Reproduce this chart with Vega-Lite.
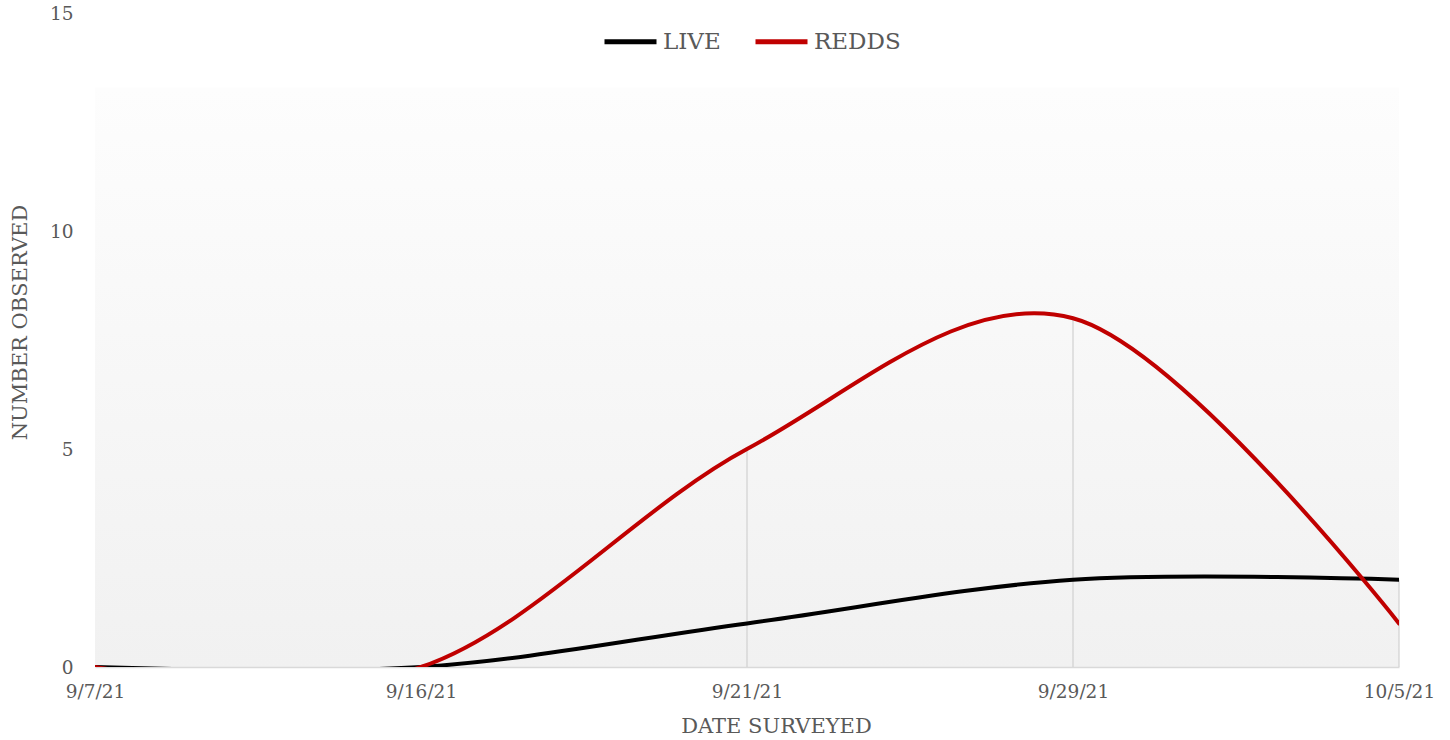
{
  "$schema": "https://vega.github.io/schema/vega-lite/v6.json",
  "width": 1304,
  "height": 654,
  "autosize": {"type": "none"},
  "padding": {"left": 95, "top": 13, "right": 51, "bottom": 73},
  "background": "white",
  "config": {
    "font": "DejaVu Serif",
    "view": {
      "stroke": null,
      "fill": {
        "gradient": "linear",
        "x1": 0, "y1": 0, "x2": 0, "y2": 1,
        "stops": [
          {"offset": 0, "color": "#ffffff"},
          {"offset": 0.113, "color": "#ffffff"},
          {"offset": 0.115, "color": "#fdfdfd"},
          {"offset": 1, "color": "#f1f1f1"}
        ]
      }
    }
  },
  "data": {
    "values": [
      {"date": "9/7/21", "series": "LIVE", "value": 0},
      {"date": "9/16/21", "series": "LIVE", "value": 0},
      {"date": "9/21/21", "series": "LIVE", "value": 1},
      {"date": "9/29/21", "series": "LIVE", "value": 2},
      {"date": "10/5/21", "series": "LIVE", "value": 2},
      {"date": "9/7/21", "series": "REDDS", "value": 0},
      {"date": "9/16/21", "series": "REDDS", "value": 0},
      {"date": "9/21/21", "series": "REDDS", "value": 5},
      {"date": "9/29/21", "series": "REDDS", "value": 8},
      {"date": "10/5/21", "series": "REDDS", "value": 1}
    ]
  },
  "encoding": {
    "x": {
      "field": "date",
      "type": "ordinal",
      "sort": ["9/7/21", "9/16/21", "9/21/21", "9/29/21", "10/5/21"],
      "scale": {"type": "point", "padding": 0},
      "axis": {
        "title": "DATE SURVEYED",
        "labelAngle": 0,
        "labelFontSize": 18.5,
        "labelColor": "#595959",
        "labelPadding": 15,
        "ticks": false,
        "domainColor": "#d9d9d9",
        "domainWidth": 1.5,
        "titleFontSize": 21,
        "titleFontWeight": "normal",
        "titleColor": "#595959",
        "titlePadding": 15,
        "titleX": 681,
        "titleAlign": "center"
      }
    }
  },
  "layer": [
    {
      "mark": {"type": "rule", "color": "#d0d0d0", "strokeWidth": 1.2},
      "encoding": {
        "y": {"aggregate": "max", "field": "value", "type": "quantitative", "scale": {"domain": [0, 15], "nice": false}},
        "y2": {"datum": 0}
      }
    },
    {
      "mark": {"type": "line", "interpolate": "cardinal", "strokeWidth": 4, "strokeCap": "round", "clip": true},
      "encoding": {
        "y": {
          "field": "value",
          "type": "quantitative",
          "scale": {"domain": [0, 15], "nice": false},
          "axis": {
            "title": "NUMBER OBSERVED",
            "values": [0, 5, 10, 15],
            "grid": false,
            "domain": false,
            "ticks": false,
            "labelFontSize": 18.5,
            "labelColor": "#595959",
            "labelPadding": 22,
            "titleFontSize": 21,
            "titleFontWeight": "normal",
            "titleColor": "#595959",
            "titleX": -65,
            "titleY": 309
          }
        },
        "color": {
          "field": "series",
          "type": "nominal",
          "scale": {"domain": ["LIVE", "REDDS"], "range": ["#000000", "#c00000"]},
          "legend": {
            "title": null,
            "orient": "none",
            "direction": "horizontal",
            "legendX": 507,
            "legendY": 0,
            "symbolType": "stroke",
            "symbolSize": 2704,
            "symbolStrokeWidth": 5,
            "labelFontSize": 23,
            "labelColor": "#595959",
            "labelOffset": 4,
            "columnPadding": 24,
            "padding": 0
          }
        }
      }
    }
  ]
}
